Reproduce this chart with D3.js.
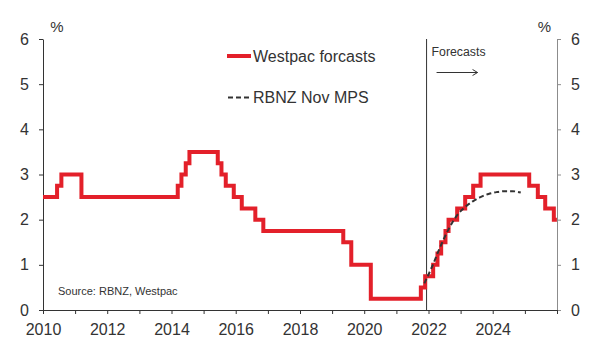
<!DOCTYPE html>
<html><head><meta charset="utf-8">
<script src="https://cdn.jsdelivr.net/npm/d3@7"></script>
<style>
html,body{margin:0;padding:0;background:#fff;}
svg{display:block;font-family:"Liberation Sans",Arial,sans-serif;}
</style></head>
<body>
<svg id="chart" width="596" height="357"></svg>
<script>
// ---- data ----
const westpacDates = ["2010-01-01","2010-06-10","2010-07-29","2011-03-14","2014-03-13","2014-04-24","2014-06-12","2014-07-24",
  "2015-06-11","2015-07-23","2015-09-10","2015-12-10","2016-03-10","2016-08-11","2016-11-10","2019-05-08","2019-08-07",
  "2020-03-16","2021-10-06","2021-11-24","2022-02-23","2022-04-13","2022-05-25","2022-07-13","2022-08-17","2022-11-23",
  "2023-02-22","2023-05-24","2023-08-16","2025-02-19","2025-05-28","2025-08-20","2025-11-26","2025-12-31"];
const westpacRates = [2.5,2.75,3.0,2.5,2.75,3.0,3.25,3.5,
  3.25,3.0,2.75,2.5,2.25,2.0,1.75,1.5,1.0,
  0.25,0.5,0.75,1.0,1.25,1.5,1.75,2.0,2.25,
  2.5,2.75,3.0,2.75,2.5,2.25,2.0,2.0];
const rbnzDates = ["2021-11-15","2022-02-15","2022-05-15","2022-08-15","2022-11-15","2023-02-15","2023-05-15",
  "2023-08-15","2023-11-15","2024-02-15","2024-05-15","2024-08-15","2024-11-15"];
const rbnzRates = [0.59,0.98,1.40,1.78,2.08,2.27,2.40,2.50,2.57,2.61,2.63,2.63,2.60];
const yTicks = [0,1,2,3,4,5,6];
const xTickYears = [2010,2011,2012,2013,2014,2015,2016,2017,2018,2019,2020,2021,2022,2023,2024,2025,2026];
const legendLabels = ["Westpac forcasts","RBNZ Nov MPS"];
const forecastDate = "2021-12-10";
const forecastLabel = "Forecasts";
const sourceText = "Source: RBNZ, Westpac";

// ---- layout ----
const svg = d3.select("#chart");
const m = {left:43, right:39, top:39, bottom:47};
const W = 596, H = 357;
const parse = d3.timeParse("%Y-%m-%d");
const x = d3.scaleTime().domain([new Date(2010,0,1), new Date(2026,0,1)]).range([m.left, W-m.right]);
const y = d3.scaleLinear().domain([0,6]).range([H-m.bottom, m.top]);
const txt = "#333";
const red = "#e3202a";

// left axis
const gl = svg.append("g").attr("transform",`translate(${m.left},0)`)
  .call(d3.axisLeft(y).tickValues(yTicks).tickSize(4).tickSizeOuter(0).tickPadding(10).tickFormat(d3.format("d")));
gl.select(".domain").attr("stroke","#333");
gl.selectAll(".tick line").attr("stroke","#333");
gl.selectAll("text").attr("fill",txt).attr("font-size",16).attr("font-family","Liberation Sans, Arial, sans-serif");

// right axis
const gr = svg.append("g").attr("transform",`translate(${W-m.right},0)`)
  .call(d3.axisRight(y).tickValues(yTicks).tickSize(4).tickSizeOuter(0).tickPadding(10).tickFormat(d3.format("d")));
gr.select(".domain").attr("stroke","#8c8c8c");
gr.selectAll(".tick line").attr("stroke","#8c8c8c");
gr.selectAll("text").attr("fill",txt).attr("font-size",16).attr("font-family","Liberation Sans, Arial, sans-serif");

// bottom axis
const gb = svg.append("g").attr("transform",`translate(0,${H-m.bottom})`)
  .call(d3.axisBottom(x).tickValues(xTickYears.map(yr=>new Date(yr,0,1))).tickSize(4).tickSizeOuter(0).tickPadding(10)
    .tickFormat(d => (d.getFullYear()%2===0 && d.getFullYear()<2026) ? d.getFullYear() : ""));
gb.select(".domain").attr("stroke","#333");
gb.selectAll(".tick line").attr("stroke","#333");
gb.selectAll("text").attr("fill",txt).attr("font-size",16).attr("font-family","Liberation Sans, Arial, sans-serif");

// % labels
svg.append("text").attr("x",57).attr("y",32).attr("text-anchor","middle").attr("font-size",15).attr("fill",txt).text("%");
svg.append("text").attr("x",544.5).attr("y",32).attr("text-anchor","middle").attr("font-size",15).attr("fill",txt).text("%");

// forecast divider
const fx = x(parse(forecastDate));
svg.append("line").attr("x1",fx).attr("x2",fx).attr("y1",y(6)).attr("y2",y(0)).attr("stroke","#333").attr("stroke-width",1);
svg.append("text").attr("x",fx+5).attr("y",56).attr("font-size",12.3).attr("fill",txt).text(forecastLabel);
// arrow
svg.append("line").attr("x1",fx+10).attr("x2",fx+51).attr("y1",72.5).attr("y2",72.5).attr("stroke","#333").attr("stroke-width",1);
svg.append("path").attr("d",`M${fx+46},69.5 L${fx+51},72.5 L${fx+46},75.5`).attr("fill","none").attr("stroke","#333").attr("stroke-width",1);

// westpac step line
const wData = westpacDates.map((d,i)=>({d:parse(d), v:westpacRates[i]}));
svg.append("path").datum(wData)
  .attr("d", d3.line().x(p=>x(p.d)).y(p=>y(p.v)).curve(d3.curveStepAfter))
  .attr("fill","none").attr("stroke",red).attr("stroke-width",4).attr("stroke-linejoin","miter");

// RBNZ dashed
const rData = rbnzDates.map((d,i)=>({d:parse(d), v:rbnzRates[i]}));
svg.append("path").datum(rData)
  .attr("d", d3.line().x(p=>x(p.d)).y(p=>y(p.v)).curve(d3.curveMonotoneX))
  .attr("fill","none").attr("stroke","#333").attr("stroke-width",2).attr("stroke-dasharray","5,3");

// legend
svg.append("line").attr("x1",227).attr("x2",251).attr("y1",56).attr("y2",56).attr("stroke",red).attr("stroke-width",4);
svg.append("text").attr("x",253).attr("y",62).attr("font-size",16).attr("fill",txt).text(legendLabels[0]);
svg.append("line").attr("x1",228).attr("x2",249).attr("y1",97.5).attr("y2",97.5).attr("stroke","#333").attr("stroke-width",2).attr("stroke-dasharray","5,3");
svg.append("text").attr("x",253).attr("y",102.5).attr("font-size",16).attr("fill",txt).text(legendLabels[1]);

// source
svg.append("text").attr("x",58).attr("y",294.5).attr("font-size",11).attr("fill",txt).text(sourceText);
</script>
</body></html>
